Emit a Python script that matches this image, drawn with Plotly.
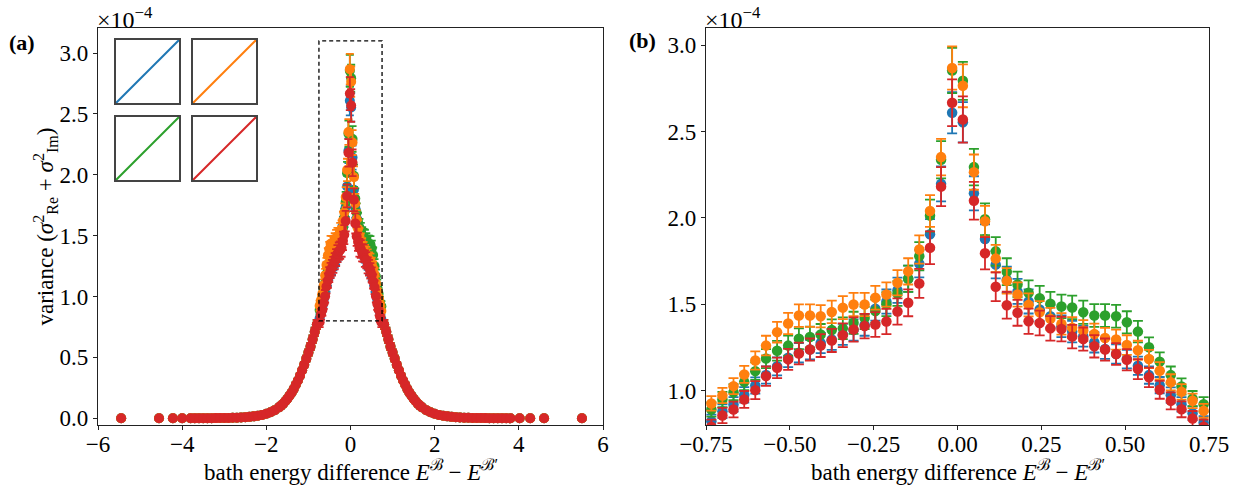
import plotly.graph_objects as go

W, H = 1237, 493

# ---------------- data (values in units of 1e-4) ----------------
center_x = [-0.734, -0.701, -0.668, -0.636, -0.603, -0.571, -0.538, -0.505, -0.473, -0.440,
            -0.408, -0.375, -0.342, -0.310, -0.277, -0.245, -0.212, -0.179, -0.147, -0.114,
            -0.082, -0.049, -0.016, 0.016, 0.049, 0.082, 0.114, 0.147, 0.179, 0.212,
            0.245, 0.277, 0.310, 0.342, 0.375, 0.408, 0.440, 0.473, 0.505, 0.538,
            0.571, 0.603, 0.636, 0.668, 0.701, 0.734]

blue_y = [0.822, 0.88, 0.919, 0.975, 1.029, 1.09, 1.14, 1.19, 1.218, 1.237, 1.275, 1.295, 1.325,
          1.35, 1.38, 1.473, 1.515, 1.581, 1.647, 1.735, 1.905, 2.197, 2.609,
          2.554, 2.142, 1.877, 1.729, 1.642, 1.574, 1.516, 1.469, 1.43, 1.372, 1.341, 1.314,
          1.279, 1.24, 1.211, 1.182, 1.143, 1.089, 1.031, 0.973, 0.92, 0.868, 0.814]
blue_err = [0.038, 0.040, 0.042, 0.045, 0.047, 0.050, 0.052, 0.055, 0.056, 0.057, 0.059, 0.060, 0.061,
            0.062, 0.063, 0.068, 0.070, 0.073, 0.076, 0.080, 0.088, 0.101, 0.120,
            0.117, 0.099, 0.086, 0.080, 0.076, 0.072, 0.070, 0.068, 0.066, 0.063, 0.062, 0.060,
            0.059, 0.057, 0.056, 0.054, 0.053, 0.050, 0.047, 0.045, 0.042, 0.040, 0.037]

orange_y = [0.925, 0.971, 1.025, 1.093, 1.174, 1.26, 1.338, 1.388, 1.434, 1.434, 1.43, 1.455, 1.48,
            1.498, 1.498, 1.537, 1.556, 1.624, 1.69, 1.817, 2.04, 2.352, 2.868,
            2.765, 2.265, 1.98, 1.764, 1.635, 1.556, 1.496, 1.453, 1.415, 1.386, 1.364, 1.347,
            1.327, 1.304, 1.295, 1.263, 1.233, 1.182, 1.114, 1.047, 0.992, 0.94, 0.882]
orange_err = [0.042, 0.044, 0.046, 0.049, 0.053, 0.057, 0.060, 0.062, 0.065, 0.065, 0.064, 0.065, 0.067,
              0.067, 0.067, 0.069, 0.070, 0.073, 0.076, 0.082, 0.092, 0.106, 0.125,
              0.124, 0.102, 0.089, 0.079, 0.074, 0.070, 0.067, 0.065, 0.064, 0.062, 0.061, 0.061,
              0.060, 0.059, 0.058, 0.057, 0.055, 0.053, 0.050, 0.047, 0.045, 0.042, 0.040]

green_y = [0.89, 0.948, 0.99, 1.05, 1.112, 1.185, 1.23, 1.26, 1.30, 1.31, 1.324, 1.35, 1.36,
           1.392, 1.42, 1.46, 1.50, 1.562, 1.647, 1.778, 2.013, 2.337, 2.854,
           2.794, 2.294, 1.992, 1.806, 1.688, 1.614, 1.566, 1.535, 1.502, 1.487, 1.481, 1.453,
           1.434, 1.434, 1.43, 1.395, 1.341, 1.25, 1.167, 1.089, 1.023, 0.953, 0.92]
green_err = [0.041, 0.044, 0.046, 0.048, 0.051, 0.055, 0.057, 0.058, 0.060, 0.060, 0.061, 0.062, 0.063,
             0.064, 0.065, 0.067, 0.069, 0.072, 0.076, 0.082, 0.093, 0.108, 0.131,
             0.110, 0.106, 0.092, 0.083, 0.078, 0.074, 0.072, 0.071, 0.069, 0.068, 0.068, 0.067,
             0.066, 0.066, 0.066, 0.064, 0.062, 0.058, 0.054, 0.050, 0.047, 0.044, 0.042]

red_y = [0.79, 0.855, 0.89, 0.948, 1.002, 1.083, 1.131, 1.18, 1.214, 1.237, 1.26, 1.29, 1.32,
         1.353, 1.373, 1.382, 1.40, 1.458, 1.508, 1.62, 1.827, 2.181, 2.667,
         2.57, 2.099, 1.795, 1.601, 1.494, 1.45, 1.401, 1.391, 1.36, 1.356, 1.312, 1.298,
         1.256, 1.237, 1.211, 1.178, 1.124, 1.076, 1.004, 0.94, 0.891, 0.837, 0.79]
red_err = [0.041, 0.044, 0.046, 0.049, 0.052, 0.056, 0.059, 0.061, 0.063, 0.064, 0.066, 0.067, 0.069,
           0.070, 0.071, 0.072, 0.073, 0.076, 0.078, 0.084, 0.095, 0.113, 0.135,
           0.134, 0.109, 0.093, 0.083, 0.078, 0.075, 0.073, 0.072, 0.071, 0.071, 0.068, 0.067,
           0.065, 0.064, 0.063, 0.061, 0.058, 0.056, 0.052, 0.049, 0.046, 0.044, 0.041]

# tails of the full range (panel a), shared by the four runs
tail_neg_x = [-5.45, -4.55, -4.22, -4.00, -3.80, -3.70, -3.60, -3.50, -3.40, -3.30, -3.20, -3.10,
              -3.00, -2.90, -2.80, -2.70, -2.60, -2.50, -2.40, -2.30, -2.20, -2.10, -2.00, -1.90,
              -1.80, -1.70, -1.65, -1.60, -1.55, -1.50, -1.45, -1.40, -1.35, -1.30, -1.25, -1.20,
              -1.15, -1.10, -1.05, -1.00, -0.95, -0.90, -0.85, -0.80]
tail_neg_y = [0.0, 0.0001, 0.0001, 0.0002, 0.0004, 0.0005, 0.0006, 0.0008, 0.001, 0.0012, 0.0015, 0.002,
              0.0025, 0.003, 0.004, 0.005, 0.007, 0.009, 0.012, 0.016, 0.021, 0.028, 0.037, 0.05,
              0.067, 0.09, 0.104, 0.12, 0.14, 0.16, 0.185, 0.21, 0.24, 0.275, 0.31, 0.35,
              0.395, 0.44, 0.49, 0.54, 0.59, 0.65, 0.71, 0.77]
tail_neg_err = [0.0, 0.0, 0.0, 0.0, 0.0, 0.0, 0.0, 0.0, 0.0001, 0.0001, 0.0001, 0.0001,
                0.0002, 0.0002, 0.0002, 0.0003, 0.0004, 0.0005, 0.0006, 0.0008, 0.001, 0.0014, 0.0019, 0.0025,
                0.0034, 0.0045, 0.005, 0.006, 0.007, 0.008, 0.009, 0.010, 0.012, 0.014, 0.015, 0.017,
                0.020, 0.022, 0.024, 0.027, 0.029, 0.032, 0.035, 0.038]

tail_pos_x = [0.80, 0.85, 0.90, 0.95, 1.00, 1.05, 1.10, 1.15, 1.20, 1.25, 1.30, 1.35, 1.40, 1.45,
              1.50, 1.55, 1.60, 1.65, 1.70, 1.80, 1.90, 2.00, 2.10, 2.20, 2.30, 2.40, 2.50, 2.60,
              2.70, 2.80, 2.90, 3.00, 3.10, 3.20, 3.30, 3.40, 3.50, 3.60, 3.70, 3.80, 4.02, 4.27,
              4.60, 5.50]
tail_pos_y = [0.77, 0.71, 0.65, 0.59, 0.54, 0.49, 0.44, 0.395, 0.35, 0.31, 0.275, 0.24, 0.21, 0.185,
              0.16, 0.14, 0.12, 0.104, 0.09, 0.067, 0.05, 0.037, 0.028, 0.021, 0.016, 0.012, 0.009, 0.007,
              0.005, 0.004, 0.003, 0.0025, 0.002, 0.0015, 0.0012, 0.001, 0.0008, 0.0006, 0.0005, 0.0004,
              0.0002, 0.0001, 0.0001, 0.0]
tail_pos_err = [0.038, 0.035, 0.032, 0.029, 0.027, 0.024, 0.022, 0.020, 0.017, 0.015, 0.014, 0.012, 0.010, 0.009,
                0.008, 0.007, 0.006, 0.005, 0.0045, 0.0034, 0.0025, 0.0019, 0.0014, 0.001, 0.0008, 0.0006, 0.0005, 0.0004,
                0.0003, 0.0002, 0.0002, 0.0002, 0.0001, 0.0001, 0.0001, 0.0001, 0.0, 0.0, 0.0, 0.0,
                0.0, 0.0, 0.0, 0.0]

series_names = ["run 1", "run 2", "run 3", "run 4"]
colors = ["#1f77b4", "#ff7f0e", "#2ca02c", "#d62728"]
series_y = [blue_y, orange_y, green_y, red_y]
series_err = [blue_err, orange_err, green_err, red_err]
draw_order = [0, 2, 1, 3]

inset_x = [0, 1]
inset_y = [0, 1]

full_x_range = [-6, 6]
full_y_range = [-0.055, 3.206]
zoom_x_range = [-0.75, 0.75]
zoom_y_range = [0.8, 3.1]

# ---------------- geometry ----------------
def px_x(p):
    return p / W

def px_y(p):
    return 1 - p / H

AX_TOP, AX_BOT = 28, 425
L_LEFT, L_RIGHT = 98, 603
R_LEFT, R_RIGHT = 706, 1209

FONT = "Liberation Serif"
TICK_SIZE = 23
LABEL_SIZE = 23

fig = go.Figure()

for i in draw_order:
    c = colors[i]
    xs = tail_neg_x + center_x + tail_pos_x
    ys = tail_neg_y + series_y[i] + tail_pos_y
    es = tail_neg_err + series_err[i] + tail_pos_err
    fig.add_trace(go.Scatter(
        x=xs, y=ys, mode="markers", name=series_names[i],
        marker=dict(color=c, size=10, line=dict(width=0)),
        error_y=dict(type="data", array=es, color=c, thickness=1.8, width=4),
        xaxis="x", yaxis="y", showlegend=False))

for i in draw_order:
    c = colors[i]
    fig.add_trace(go.Scatter(
        x=center_x, y=series_y[i], mode="markers", name=series_names[i],
        marker=dict(color=c, size=10.5, line=dict(width=0)),
        error_y=dict(type="data", array=series_err[i], color=c, thickness=1.8, width=5),
        xaxis="x2", yaxis="y2", showlegend=False))

# insets
inset_boxes = [
    (116, 179, 40, 103),
    (193, 256, 40, 103),
    (116, 179, 117, 180),
    (193, 256, 117, 180),
]
for k, (x0, x1, y0, y1) in enumerate(inset_boxes):
    n = k + 3
    fig.add_trace(go.Scatter(x=inset_x, y=inset_y, mode="lines",
                             line=dict(color=colors[k], width=2),
                             xaxis=f"x{n}", yaxis=f"y{n}", showlegend=False))
    common = dict(showline=True, mirror=True, linecolor="#444", linewidth=1.5,
                  showticklabels=False, ticks="", showgrid=False, zeroline=False,
                  range=[0, 1], fixedrange=True, automargin=False)
    fig.layout[f"xaxis{n}"] = dict(domain=[px_x(x0), px_x(x1)], anchor=f"y{n}", **common)
    fig.layout[f"yaxis{n}"] = dict(domain=[px_y(y1), px_y(y0)], anchor=f"x{n}", **common)

axis_common = dict(showline=True, mirror=True, linecolor="#222", linewidth=1.2,
                   ticks="outside", ticklen=4, tickwidth=1.2, tickcolor="#222",
                   showgrid=False, zeroline=False, automargin=False,
                   tickfont=dict(family=FONT, size=TICK_SIZE, color="black"))

fig.update_layout(
    width=W, height=H, autosize=False,
    margin=dict(l=0, r=0, t=0, b=0, pad=0, autoexpand=False),
    paper_bgcolor="white", plot_bgcolor="white",
    font=dict(family=FONT, color="black"),
    xaxis=dict(domain=[px_x(L_LEFT), px_x(L_RIGHT)], range=full_x_range, dtick=2,
               tick0=0, anchor="y", ticklabelstandoff=-6, **axis_common),
    yaxis=dict(domain=[px_y(AX_BOT), px_y(AX_TOP)], range=full_y_range, dtick=0.5,
               tick0=0, tickformat=".1f", anchor="x", **axis_common),
    xaxis2=dict(domain=[px_x(R_LEFT), px_x(R_RIGHT)], range=zoom_x_range, dtick=0.25,
                tick0=0, tickformat=".2f", anchor="y2", ticklabelstandoff=-6, **axis_common),
    yaxis2=dict(domain=[px_y(AX_BOT), px_y(AX_TOP)], range=zoom_y_range, dtick=0.5,
                tick0=0, tickformat=".1f", anchor="x2", **axis_common),
)

# dashed zoom rectangle in panel (a)
fig.add_shape(type="rect", xref="x", yref="y",
              x0=zoom_x_range[0], x1=zoom_x_range[1], y0=zoom_y_range[0], y1=zoom_y_range[1],
              line=dict(color="black", width=1.3, dash="4px,3px"), layer="above")

xtitle = "bath energy difference <i>E</i><sup>ℬ</sup> − <i>E</i><sup>ℬ′</sup>"
ytitle = ("variance (<i>σ</i><sup>2</sup><sub>Re</sub> + "
          "<i>σ</i><sup>2</sup><sub>Im</sub>)")

ann = [
    dict(text=xtitle, x=px_x((L_LEFT + L_RIGHT) / 2), y=px_y(470)),
    dict(text=xtitle, x=px_x((R_LEFT + R_RIGHT) / 2), y=px_y(470)),
    dict(text=ytitle, x=px_x(45), y=px_y((AX_TOP + AX_BOT) / 2), textangle=-90),
]
for a in ann:
    fig.add_annotation(xref="paper", yref="paper", showarrow=False,
                       xanchor="center", yanchor="middle",
                       font=dict(family=FONT, size=LABEL_SIZE, color="black"), **a)

for xl in (L_LEFT, R_LEFT):
    fig.add_annotation(xref="paper", yref="paper", showarrow=False,
                       x=px_x(xl - 3), y=px_y(1), xanchor="left", yanchor="top",
                       text="×10<sup>−4</sup>",
                       font=dict(family=FONT, size=24, color="black"))

fig.add_annotation(xref="paper", yref="paper", showarrow=False, x=px_x(22), y=px_y(42),
                   xanchor="center", yanchor="middle", text="<b>(a)</b>",
                   font=dict(family=FONT, size=22, color="black"))
fig.add_annotation(xref="paper", yref="paper", showarrow=False, x=px_x(642), y=px_y(40),
                   xanchor="center", yanchor="middle", text="<b>(b)</b>",
                   font=dict(family=FONT, size=22, color="black"))

fig.write_html("out.html")
